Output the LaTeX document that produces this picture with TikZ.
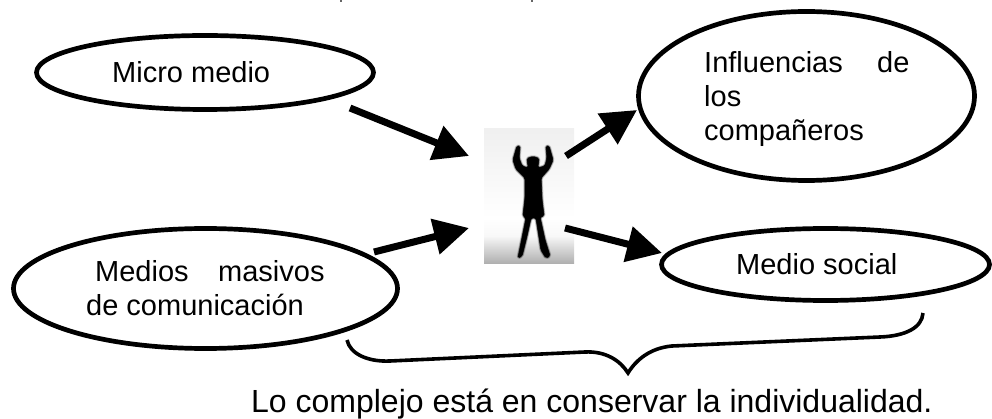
\documentclass[tikz,border=0pt]{standalone}
\usepackage{fontspec}
\setmainfont{Liberation Sans}
\usetikzlibrary{arrows.meta,shapes.geometric}
\tikzset{
  x=1pt,y=-1pt,
  oval/.style={ellipse,draw,line width=4.7pt,inner sep=0pt},
  flow/.style={line width=7pt,-{Triangle[length=35pt,width=35pt]}},
  lbl/.style={font=\fontsize{29}{29}\selectfont,inner sep=0pt,anchor=base west},
}
\begin{document}
\begin{tikzpicture}
\useasboundingbox (0,0) rectangle (992,419);
\fill[black!60] (340,0) rectangle (342,2);
\fill[black!60] (531,0) rectangle (533,2);
\node[oval,minimum width=337pt,minimum height=74pt] (micro) at (205,72.5) {};
\node[oval,minimum width=336pt,minimum height=169pt] (infl) at (806.5,96) {};
\node[oval,minimum width=384pt,minimum height=120pt] (masivos) at (205.5,288.5) {};
\node[oval,minimum width=328pt,minimum height=72pt] (social) at (825.5,264.5) {};
\node[lbl] (t1) at (112,83) {Micro medio};
\node[lbl] (t2a) at (704,73) {Influencias};
\node[lbl] (t2b) at (877,73) {de};
\node[lbl] (t2c) at (704,107) {los};
\node[lbl] (t2d) at (704,141) {compañeros};
\node[lbl] (t3a) at (95,282) {Medios};
\node[lbl] (t3b) at (218,282) {masivos};
\node[lbl] (t3c) at (86,316) {de comunicación};
\node[lbl] (t4) at (736,275) {Medio social};
\node[lbl,font=\fontsize{32}{32}\selectfont] (t5) at (251,412.5) {Lo complejo está en conservar la individualidad.};
% figure photograph
\shade[top color=black!6,bottom color=white] (484,129) rectangle (574,218);
\shade[top color=white,bottom color=black!3] (484,218) rectangle (574,238);
\shade[top color=black!5,bottom color=black!32] (484,238) rectangle (574,264);
\foreach \w/\o in {3.4/.16,2.2/.26,1.2/.45,0.3/1}{
\fill[black,opacity=\o,draw=black,line width=\w pt,line join=round,rounded corners=1.5pt]
 (517,146) -- (520,146) -- (519,158) -- (522,166) -- (528,168) -- (528,164) .. controls (526,158) and (530,157) .. (533,157) .. controls (536,157) and (540,158) .. (538,164) -- (538,168) -- (545,166) -- (547,158) -- (546,146) -- (549,146) -- (553,160) -- (549,169) -- (541,178)
 -- (542,200) -- (544,216) -- (540,217) -- (545,240) -- (550,256) -- (546,258) -- (541,250) -- (536,218) -- (531,218) -- (527,236) -- (522,256) -- (518,258) -- (520,248) -- (526,218) -- (523,216) -- (525,198) -- (525,178) -- (516,169) -- (513,160) -- cycle;
}
\coordinate (a1) at (350,108);
\coordinate (a2) at (374,252);
\coordinate (a3) at (566,156);
\coordinate (a4) at (565,228);
\coordinate (b1) at (469,156);
\coordinate (b2) at (469,228);
\coordinate (b3) at (637,110);
\coordinate (b4) at (662,253);
\draw[flow] (a1) -- (b1);
\draw[flow] (a2) -- (b2);
\draw[flow] (a3) -- (b3);
\draw[flow] (a4) -- (b4);
\coordinate (bl) at (347,340);
\coordinate (br) at (923,313);
\coordinate (bt) at (628,373);
\draw[line width=3.6pt] (bl) .. controls (350,354) and (368,362) .. (390,361) -- (585,352) .. controls (605,351) and (620,360) .. (bt) .. controls (636,360) and (650,348) .. (672,346) -- (880,337) .. controls (905,336) and (922,328) .. (br);
\end{tikzpicture}
\end{document}
